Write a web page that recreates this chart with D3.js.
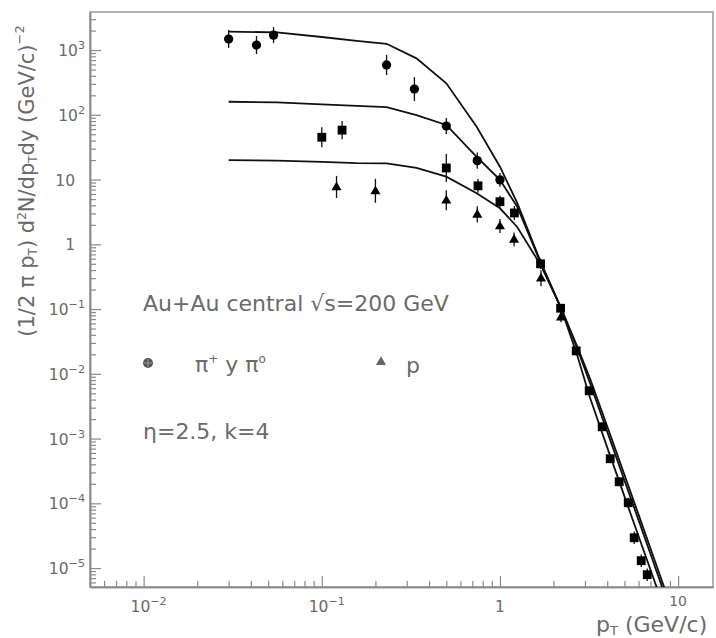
<!DOCTYPE html>
<html>
<head>
<meta charset="utf-8">
<script src="https://cdn.jsdelivr.net/npm/d3@7"></script>
<style>
  html, body { margin: 0; padding: 0; background: #fff; }
  svg { display: block; }
  text { font-family: "DejaVu Sans", sans-serif; }
</style>
</head>
<body>
<svg id="chart" width="716" height="638"></svg>
<script>
// ---------------- data ----------------
// charged pions (circles)
const pionX   = [0.030, 0.043, 0.0536, 0.231, 0.331, 0.5, 0.746, 1.0];
const pionY   = [1480, 1195, 1700, 588, 250, 67, 19.6, 9.9];
const pionErr = [1.38, 1.38, 1.33, 1.43, 1.53, 1.33, 1.33, 1.28];
// neutral pions (squares)
const pi0X   = [0.1, 0.13, 0.5, 0.753, 1.0, 1.205, 1.69, 2.19, 2.68, 3.17, 3.75, 4.16, 4.67, 5.25, 5.67, 6.21, 6.71];
const pi0Y   = [45, 58, 15.1, 8.0, 4.55, 3.05, 0.5, 0.103, 0.0226, 0.00547, 0.00152, 4.88e-4, 2.15e-4, 1.02e-4, 2.94e-5, 1.3e-5, 7.9e-6];
const pi0Err = [1.43, 1.38, 1.64, 1.28, 1.24, 1.28, 1.2, 1.15, 1.15, 1.15, 1.15, 1.15, 1.15, 1.2, 1.25, 1.25, 1.25];
// protons (triangles)
const protX   = [0.121, 0.2, 0.5, 0.746, 1.0, 1.2, 1.7, 2.2];
const protY   = [7.7, 6.7, 4.8, 2.9, 1.92, 1.19, 0.30, 0.075];
const protErr = [1.48, 1.53, 1.43, 1.33, 1.28, 1.28, 1.33, 1.2];
// model curves
const curveX     = [0.03, 0.056, 0.1, 0.157, 0.231, 0.34, 0.5, 0.74, 1.0, 1.25, 1.7, 2.2, 2.72, 3.2, 4.0, 5.0, 6.0, 7.0, 8.0, 9.0];
const curvePion  = [1920, 1880, 1590, 1387, 1250, 745, 306, 65.5, 15.8, 4.35, 0.52, 0.104, 0.026, 8.5e-3, 1.55e-3, 2.75e-4, 6.7e-5, 2.0e-5, 7.1e-6, 2.8e-6];
const curveKaon  = [159, 156, 145, 137, 131, 99, 69.7, 22.5, 9.9, 3.8, 0.5, 0.104, 0.0245, 7.2e-3, 1.28e-3, 2.25e-4, 5.5e-5, 1.65e-5, 5.8e-6, 2.3e-6];
const curveProt  = [20, 19.6, 18.8, 17.9, 17.8, 15.2, 11.1, 6.15, 3.6, 1.85, 0.47, 0.104, 0.019, 4.3e-3, 7.3e-4, 1.28e-4, 3.1e-5, 9.4e-6, 3.3e-6, 1.3e-6];
// axes
const xDomain = [0.005, 15.7];
const yDomain = [5.1e-6, 3870];
const xMajor = [0.01, 0.1, 1, 10];
const xMajorLabels = [["10", "-2"], ["10", "-1"], ["1", ""], ["10", ""]];
const yMajor = [1e-5, 1e-4, 1e-3, 1e-2, 1e-1, 1, 10, 100, 1000];
const yMajorLabels = [["10","-5"],["10","-4"],["10","-3"],["10","-2"],["10","-1"],["1",""],["10",""],["10","2"],["10","3"]];

// ---------------- layout ----------------
const svg = d3.select("#chart");
const L = 90, R = 713, T = 12, B = 587;
const x = d3.scaleLog().domain(xDomain).range([L, R]);
const y = d3.scaleLog().domain(yDomain).range([B, T]);
const axisColor = "#8a8a8a";
const textColor = "#6a6a6a";

function minorTicks(domain) {
  const out = [];
  const lo = Math.floor(Math.log10(domain[0])), hi = Math.ceil(Math.log10(domain[1]));
  for (let e = lo; e <= hi; e++) {
    for (let m = 2; m <= 9; m++) {
      const v = m * Math.pow(10, e);
      if (v > domain[0] && v < domain[1]) out.push(v);
    }
  }
  return out;
}

// frame
svg.append("rect").attr("x", L).attr("y", T).attr("width", R - L).attr("height", B - T)
  .attr("fill", "none").attr("stroke", "#9a9a9a").attr("stroke-width", 1.5);

// axes (ticks pointing inward)
function styleAxis(g) {
  g.selectAll("path.domain").attr("stroke", axisColor).attr("stroke-width", 1.5);
  g.selectAll(".tick line").attr("stroke", axisColor).attr("stroke-width", 1.2);
  g.selectAll(".tick text").remove();
}
svg.append("g").attr("transform", `translate(0,${B})`)
  .call(d3.axisBottom(x).tickValues(xMajor).tickSize(-11).tickSizeOuter(0).tickFormat(""))
  .call(styleAxis);
svg.append("g").attr("transform", `translate(0,${B})`)
  .call(d3.axisBottom(x).tickValues(minorTicks(xDomain)).tickSize(-6).tickSizeOuter(0).tickFormat(""))
  .call(styleAxis);
svg.append("g").attr("transform", `translate(${L},0)`)
  .call(d3.axisLeft(y).tickValues(yMajor).tickSize(-11).tickSizeOuter(0).tickFormat(""))
  .call(styleAxis);
svg.append("g").attr("transform", `translate(${L},0)`)
  .call(d3.axisLeft(y).tickValues(minorTicks(yDomain)).tickSize(-6).tickSizeOuter(0).tickFormat(""))
  .call(styleAxis);

// tick labels
function powLabel(sel, base, exp, fs) {
  sel.append("tspan").text(base);
  if (exp) sel.append("tspan").attr("dy", -fs * 0.45).attr("font-size", fs * 0.72).text(exp.replace("-", "\u2212"));
}
const tfs = 15.5;
xMajor.forEach((v, i) => {
  const last = i === xMajor.length - 1;
  const t = svg.append("text").attr("x", x(v) + (xMajorLabels[i][1] ? 5 : 0)).attr("y", last ? 606 : 612)
    .attr("text-anchor", "middle").attr("font-size", last ? 14 : tfs).attr("fill", textColor);
  powLabel(t, xMajorLabels[i][0], xMajorLabels[i][1], tfs);
});
yMajor.forEach((v, i) => {
  const hasExp = !!yMajorLabels[i][1];
  const t = svg.append("text").attr("x", hasExp ? 85 : 75).attr("y", y(v) + 6)
    .attr("text-anchor", "end").attr("font-size", tfs).attr("fill", textColor);
  powLabel(t, yMajorLabels[i][0], yMajorLabels[i][1], tfs);
});

// axis titles
const xt = svg.append("text").attr("x", 596).attr("y", 632).attr("font-size", 22).attr("fill", textColor);
xt.append("tspan").text("p");
xt.append("tspan").attr("dy", 3).attr("font-size", 13).text("T");
xt.append("tspan").attr("dy", -3).text(" (GeV/c)");

const yt = svg.append("text").attr("transform", "translate(34,181) rotate(-90)")
  .attr("text-anchor", "middle").attr("font-size", 21).attr("fill", textColor);
yt.append("tspan").text("(1/2 \u03c0 p");
yt.append("tspan").attr("dy", 3).attr("font-size", 12).text("T");
yt.append("tspan").attr("dy", -3).text(") d");
yt.append("tspan").attr("dy", -8).attr("font-size", 12).text("2");
yt.append("tspan").attr("dy", 8).text("N/dp");
yt.append("tspan").attr("dy", 3).attr("font-size", 12).text("T");
yt.append("tspan").attr("dy", -3).text("dy (GeV/c)");
yt.append("tspan").attr("dy", -10).attr("font-size", 13).text("\u22122");

// clip
svg.append("defs").append("clipPath").attr("id", "plotclip")
  .append("rect").attr("x", L).attr("y", T).attr("width", R - L).attr("height", B - T);
const plot = svg.append("g").attr("clip-path", "url(#plotclip)");

// curves
const line = d3.line().x(d => x(d[0])).y(d => y(d[1]));
[curvePion, curveKaon, curveProt].forEach(c => {
  plot.append("path").datum(curveX.map((v, i) => [v, c[i]]))
    .attr("d", line).attr("fill", "none").attr("stroke", "#111").attr("stroke-width", 1.8);
});

// error bars + markers
function series(xs, ys, errs, shape) {
  const data = xs.map((v, i) => ({ x: v, y: ys[i], f: errs[i] }));
  plot.selectAll(null).data(data).enter().append("line")
    .attr("x1", d => x(d.x)).attr("x2", d => x(d.x))
    .attr("y1", d => y(d.y * d.f)).attr("y2", d => y(d.y / d.f))
    .attr("stroke", "#111").attr("stroke-width", 1.3);
  const sym = d3.symbol().type(shape.type).size(shape.size);
  plot.selectAll(null).data(data).enter().append("path")
    .attr("transform", d => `translate(${x(d.x)},${y(d.y) + (shape.dy || 0)})`)
    .attr("d", sym).attr("fill", "#000");
}
series(pionX, pionY, pionErr, { type: d3.symbolCircle, size: 68 });
series(pi0X, pi0Y, pi0Err, { type: d3.symbolSquare, size: 78 });
series(protX, protY, protErr, { type: d3.symbolTriangle, size: 44, dy: 0.5 });

// annotations
svg.append("text").attr("x", 143).attr("y", 311).attr("font-size", 22).attr("fill", textColor)
  .text("Au+Au central \u221as=200 GeV");
svg.append("text").attr("x", 143).attr("y", 439).attr("font-size", 22).attr("fill", textColor)
  .text("\u03b7=2.5, k=4");

// legend
const lg = svg.append("g");
lg.append("circle").attr("cx", 148).attr("cy", 363).attr("r", 5).attr("fill", "#555");
lg.append("line").attr("x1", 144).attr("x2", 152).attr("y1", 363).attr("y2", 363).attr("stroke", "#aaa").attr("stroke-width", 0.8);
lg.append("line").attr("x1", 148).attr("x2", 148).attr("y1", 359).attr("y2", 367).attr("stroke", "#aaa").attr("stroke-width", 0.8);
const lt = lg.append("text").attr("x", 195).attr("y", 372).attr("font-size", 22).attr("fill", textColor);
lt.append("tspan").text("\u03c0");
lt.append("tspan").attr("dy", -9).attr("font-size", 12).text("+");
lt.append("tspan").attr("dy", 9).text(" y \u03c0");
lt.append("tspan").attr("dy", -9).attr("font-size", 12).text("o");
lg.append("path").attr("transform", "translate(381,362)")
  .attr("d", d3.symbol().type(d3.symbolTriangle).size(44)).attr("fill", "#666");
lg.append("text").attr("x", 406).attr("y", 373).attr("font-size", 22).attr("fill", textColor).text("p");
</script>
</body>
</html>
